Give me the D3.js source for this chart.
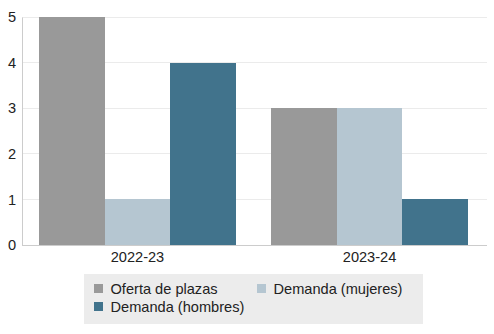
<!DOCTYPE html>
<html><head><meta charset="utf-8">
<script src="https://cdn.jsdelivr.net/npm/d3@7"></script>
<style>body{margin:0;background:#fff;}svg{display:block;font-family:"Liberation Sans",Arial,sans-serif;}</style>
</head><body>
<svg id="c" width="494" height="334"></svg>
<script>
const categories = ["2022-23", "2023-24"];
const seriesNames = ["Oferta de plazas", "Demanda (mujeres)", "Demanda (hombres)"];
const oferta = [5, 3];
const mujeres = [1, 3];
const hombres = [4, 1];
const yTicks = [0, 1, 2, 3, 4, 5];
const colors = ["#999999", "#b5c6d1", "#41738c"];

const series = [oferta, mujeres, hombres];
const svg = d3.select("#c");
const FS = 14.6;
const m = {l: 22, r: 7, t: 17, b: 89};
const W = 494, H = 334;
const x0 = d3.scaleBand().domain(categories).range([m.l, 485]).paddingInner(0.151).paddingOuter(0.073);
const x1 = d3.scaleBand().domain(seriesNames).range([0, x0.bandwidth()]);
const y = d3.scaleLinear().domain([0, 5]).range([H - m.b, m.t]);

// grid
svg.append("g").selectAll("line").data(yTicks.filter(d => d > 0)).join("line")
  .attr("x1", m.l).attr("x2", W - m.r).attr("y1", d => y(d)).attr("y2", d => y(d))
  .attr("stroke", "#ebebeb").attr("stroke-width", 1).attr("shape-rendering", "crispEdges");

// bars
categories.forEach((c, i) => {
  svg.append("g").selectAll("rect").data(seriesNames).join("rect")
    .attr("x", s => x0(c) + x1(s))
    .attr("width", x1.bandwidth())
    .attr("y", (s, k) => y(series[k][i]))
    .attr("height", (s, k) => y(0) - y(series[k][i]))
    .attr("fill", (s, k) => colors[k])
    .attr("shape-rendering", "crispEdges");
});

// y axis
const ya = svg.append("g").attr("transform", `translate(${m.l},0)`)
  .call(d3.axisLeft(y).tickValues(yTicks).tickSize(0).tickPadding(6).tickFormat(d3.format("d")));
ya.select(".domain").attr("stroke", "#cccccc");
ya.selectAll("text").attr("font-size", FS).attr("fill", "#222").attr("font-family", "Liberation Sans, Arial, sans-serif");

// x axis
const xa = svg.append("g").attr("transform", `translate(0,${y(0)})`)
  .call(d3.axisBottom(x0).tickSize(0).tickPadding(7));
xa.select(".domain").remove();
xa.append("line").attr("x1", m.l).attr("x2", W - m.r).attr("y1", 0.5).attr("y2", 0.5).attr("stroke", "#cccccc");
xa.selectAll("text").attr("font-size", FS).attr("fill", "#222").attr("font-family", "Liberation Sans, Arial, sans-serif");

// legend
const lg = svg.append("g");
lg.append("rect").attr("x", 84).attr("y", 274).attr("width", 339).attr("height", 50).attr("fill", "#ececec");
const pos = [[94, 284], [257, 284], [94, 302]];
seriesNames.forEach((s, k) => {
  lg.append("rect").attr("x", pos[k][0]).attr("y", pos[k][1]).attr("width", 9).attr("height", 9).attr("fill", colors[k]);
  lg.append("text").attr("x", pos[k][0] + 16.5).attr("y", pos[k][1] + 9.5).attr("font-size", FS).attr("fill", "#222").text(s);
});
</script>
</body></html>
